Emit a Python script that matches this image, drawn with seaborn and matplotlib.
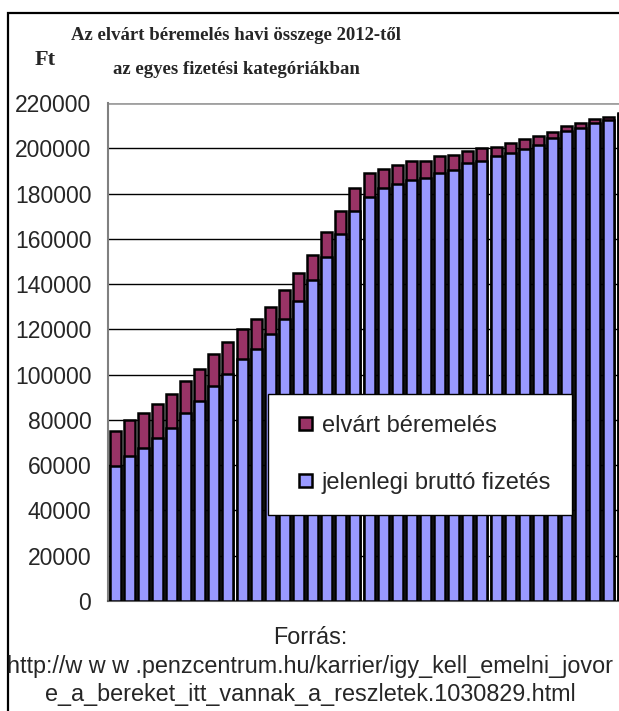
import numpy as np
import pandas as pd
import matplotlib
matplotlib.use('Agg')
import matplotlib.pyplot as plt
import matplotlib.patches as mpatches
from matplotlib.legend_handler import HandlerPatch
import seaborn as sns

# fizetési kategóriák (1..37), jelenlegi bruttó fizetés és elvárt béremelés (Ft)
kategoriak = list(range(1, 38))
jelenlegi = [59500, 64000, 67500, 72000, 76500, 83000, 88500, 95000, 100500, 107000,
             111500, 118000, 124500, 132500, 142000, 152000, 162000, 172500, 178500, 182500,
             184000, 186000, 187000, 189000, 190500, 193500, 194500, 196500, 198000, 199500,
             201500, 204500, 207500, 209000, 211000, 212500, 215000]
elvart_osszes = [75000, 80000, 83000, 87000, 91500, 97000, 102500, 109000, 114500, 120000,
                 124500, 130000, 137500, 145000, 153000, 163000, 172500, 182500, 189000, 191000,
                 192500, 194500, 194500, 196500, 197000, 199000, 200000, 200500, 202500, 204000,
                 205500, 207000, 210000, 211000, 213000, 214000, 215500]
emeles = [t - j for t, j in zip(elvart_osszes, jelenlegi)]
y_ticks = list(range(0, 220001, 20000))

df = pd.DataFrame({'kat': kategoriak, 'jelenlegi': jelenlegi, 'emeles': emeles})
df['osszes'] = df['jelenlegi'] + df['emeles']

sns.set_style('white')
plt.rcParams['font.family'] = ['Liberation Sans', 'DejaVu Sans']

KEK = '#9999FF'
BORDO = '#993366'

fig = plt.figure(figsize=(6.19, 7.11), dpi=100)
n = len(kategoriak)
cat_w = 14.11 / 619
ax = fig.add_axes([108 / 619, 1 - 601 / 711, n * cat_w, (601 - 103) / 711])

# felső rész (teljes magasság), majd rárajzolva a jelenlegi fizetés
sns.barplot(data=df, x='kat', y='osszes', color=BORDO, saturation=1, width=0.78,
            edgecolor='black', linewidth=1.8, ax=ax, zorder=3)
sns.barplot(data=df, x='kat', y='jelenlegi', color=KEK, saturation=1, width=0.78,
            edgecolor='black', linewidth=1.8, ax=ax, zorder=4)

ax.set_xlim(-0.5, n - 0.5)
ax.set_ylim(0, 220000)
ax.set_yticks(y_ticks)
ax.set_yticklabels([str(v) for v in y_ticks], fontsize=16.5)
ax.set_xticks(np.arange(n) + 0.5)
ax.set_xticklabels([])
ax.tick_params(axis='x', direction='out', length=4, color='#606060', width=1)
ax.tick_params(axis='y', direction='out', length=4, color='#808080', width=1, pad=8)
ax.set_xlabel('')
ax.set_ylabel('')
for yv in y_ticks[1:-1]:
    ax.axhline(yv, color='black', linewidth=1, zorder=1)
ax.axhline(220000, color='#a0a0a0', linewidth=2, zorder=1)
for s in ['top', 'right']:
    ax.spines[s].set_visible(False)
ax.spines['left'].set_color('#808080')
ax.spines['left'].set_linewidth(1.5)
ax.spines['bottom'].set_color('#606060')
ax.spines['bottom'].set_linewidth(1.5)


# kis négyzet a jelmagyarázatban, a kulcs-doboz jobb szélére igazítva
def negyzet(legend, orig_handle, xdescent, ydescent, width, height, fontsize):
    s = 9.4
    return mpatches.Rectangle((width - s - xdescent, (height - s) / 2 - ydescent), s, s)


handles = [mpatches.Patch(facecolor=BORDO, edgecolor='black', linewidth=1.8, label='elvárt béremelés'),
           mpatches.Patch(facecolor=KEK, edgecolor='black', linewidth=1.8, label='jelenlegi bruttó fizetés')]
leg = ax.legend(handles=handles, loc='upper left', bbox_to_anchor=(268 / 619, 1 - 394 / 711),
                bbox_transform=fig.transFigure, fontsize=17, frameon=True, fancybox=False,
                framealpha=1, edgecolor='black', handlelength=1.0, handleheight=0.7,
                handletextpad=0.4, labelspacing=1.5, borderpad=0.87, borderaxespad=0,
                handler_map={mpatches.Patch: HandlerPatch(patch_func=negyzet)})
leg.get_frame().set_linewidth(1)
leg.set_zorder(10)

# cím
fig.text(236 / 619, 1 - 36 / 711, 'Az elvárt béremelés havi összege 2012-től',
         family='Liberation Serif', weight='bold', fontsize=13.5, ha='center', va='center')
fig.text(236 / 619, 1 - 70 / 711, 'az egyes fizetési kategóriákban',
         family='Liberation Serif', weight='bold', fontsize=13.5, ha='center', va='center')
fig.text(45 / 619, 1 - 60 / 711, 'Ft', family='Liberation Serif', weight='bold',
         fontsize=16, ha='center', va='center')

# forrás
fig.text(310 / 619, 1 - 637 / 711, 'Forrás:', fontsize=16.8, ha='center', va='center')
fig.text(310 / 619, 1 - 666 / 711, 'http://w w w .penzcentrum.hu/karrier/igy_kell_emelni_jovor',
         fontsize=16.8, ha='center', va='center')
fig.text(310 / 619, 1 - 695 / 711, 'e_a_bereket_itt_vannak_a_reszletek.1030829.html',
         fontsize=16.8, ha='center', va='center')

# külső keret
fig.add_artist(mpatches.Rectangle((8 / 619, -0.1), 1.2, 1.1 - 13 / 711,
                                  transform=fig.transFigure, fill=False,
                                  edgecolor='black', linewidth=1.6))

fig.savefig('out.png', dpi=100)
